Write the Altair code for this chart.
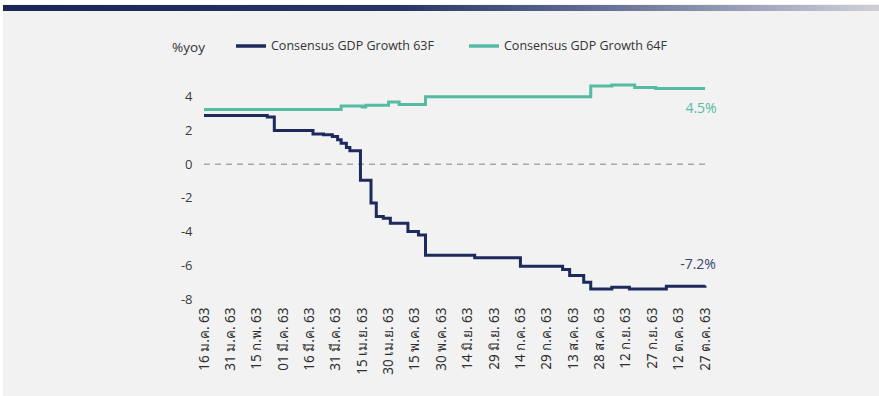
import altair as alt
import pandas as pd

# ---- data ----
navy_name = "Consensus GDP Growth 63F"
teal_name = "Consensus GDP Growth 64F"

navy_dates = ["2020-01-16", "2020-02-21", "2020-02-25", "2020-03-18", "2020-03-24",
              "2020-03-29", "2020-04-01", "2020-04-03", "2020-04-06", "2020-04-08",
              "2020-04-14", "2020-04-20", "2020-04-23", "2020-04-27", "2020-05-01",
              "2020-05-11", "2020-05-17", "2020-05-21", "2020-06-18", "2020-07-14",
              "2020-08-07", "2020-08-11", "2020-08-19", "2020-08-23", "2020-09-04",
              "2020-09-14", "2020-10-05", "2020-10-27"]
navy_vals = [2.9, 2.8, 2.0, 1.8, 1.75,
             1.65, 1.45, 1.25, 1.0, 0.8,
             -0.95, -2.3, -3.1, -3.2, -3.5,
             -4.0, -4.2, -5.4, -5.55, -6.05,
             -6.25, -6.6, -7.0, -7.4, -7.3,
             -7.4, -7.25, -7.2]

teal_dates = ["2020-01-16", "2020-04-03", "2020-04-15", "2020-04-17", "2020-04-30",
              "2020-05-06", "2020-05-21", "2020-08-23", "2020-09-04", "2020-09-17",
              "2020-09-29", "2020-10-27"]
teal_vals = [3.25, 3.45, 3.4, 3.5, 3.7,
             3.55, 4.0, 4.65, 4.7, 4.55,
             4.5, 4.5]

tick_dates = ["2020-01-16", "2020-01-31", "2020-02-15", "2020-03-01", "2020-03-16",
              "2020-03-31", "2020-04-15", "2020-04-30", "2020-05-15", "2020-05-30",
              "2020-06-14", "2020-06-29", "2020-07-14", "2020-07-29", "2020-08-13",
              "2020-08-28", "2020-09-12", "2020-09-27", "2020-10-12", "2020-10-27"]
thai_months = ["ม.ค.", "ก.พ.", "มี.ค.", "เม.ย.", "พ.ค.", "มิ.ย.",
               "ก.ค.", "ส.ค.", "ก.ย.", "ต.ค.", "พ.ย.", "ธ.ค."]
y_ticks = [-8, -6, -4, -2, 0, 2, 4]
end_labels = ["-7.2%", "4.5%"]

NAVY = "#1c2a5c"
TEAL = "#55bca3"
BG = "#f2f2f2"

def ms(d):
    return int(pd.Timestamp(d, tz="UTC").value // 10**6)

df = pd.concat([
    pd.DataFrame({"date": navy_dates, "value": navy_vals, "series": navy_name}),
    pd.DataFrame({"date": teal_dates, "value": teal_vals, "series": teal_name}),
])
last = df.groupby("series").tail(1).copy()
last["label"] = [end_labels[0] if s == navy_name else end_labels[1] for s in last["series"]]

month_arr = "[" + ",".join("'" + m + "'" for m in thai_months) + "]"
label_expr = ("(utcdate(datum.value) < 10 ? '0' : '') + utcdate(datum.value) + ' ' + "
              + month_arr + "[utcmonth(datum.value)] + ' 63'")

x_scale = alt.Scale(type="utc", domain=[ms(tick_dates[0]), ms(tick_dates[-1])])
y_scale = alt.Scale(domain=[-8, 5], nice=False, zero=False)

x_axis = alt.Axis(values=[ms(d) for d in tick_dates], labelExpr=label_expr,
                  labelAngle=270, labelAlign="right", labelBaseline="middle",
                  labelPadding=8, ticks=False, domain=False, grid=False,
                  labelFont="Noto Sans", labelFontSize=13.5, labelColor="#2e2e2e",
                  title=None, labelOverlap=False, labelBound=False, labelFlush=False)
y_axis = alt.Axis(values=y_ticks, labelExpr="'' + datum.value",
                  ticks=False, domain=False, grid=False, labelOverlap=False,
                  labelPadding=12, labelFont="Open Sans", labelFontSize=13,
                  labelColor="#3a3a3a", title="%yoy", titleAngle=0,
                  titleX=-16, titleY=-33, titleAlign="center",
                  titleBaseline="middle", titleFont="Open Sans",
                  titleFontSize=13.5, titleFontWeight="normal", titleColor="#333333")

x_enc = alt.X("date:T", scale=x_scale, axis=x_axis)
y_enc = alt.Y("value:Q", scale=y_scale, axis=y_axis)

color_enc = alt.Color("series:N",
                      scale=alt.Scale(domain=[navy_name, teal_name], range=[NAVY, TEAL]),
                      legend=alt.Legend(title=None, orient="none", legendX=30, legendY=-51,
                                        direction="horizontal", symbolType="stroke",
                                        symbolSize=900, symbolStrokeWidth=3.5,
                                        labelFont="Open Sans", labelFontSize=12.5,
                                        labelColor="#333333", columnPadding=28,
                                        labelOffset=3, labelLimit=0))

lines = alt.Chart(df).mark_line(interpolate="step-after", strokeWidth=3).encode(
    x=x_enc, y=y_enc, color=color_enc)

zero = alt.Chart(pd.DataFrame({"value": [0]})).mark_rule(
    color="#a8a8a8", strokeDash=[6, 5], strokeWidth=1.3).encode(y=y_enc)

labels_top = alt.Chart(last[last["series"] == teal_name]).mark_text(
    font="Open Sans", fontSize=14, dy=21, dx=-4, color=TEAL).encode(
    x=x_enc, y=y_enc, text="label:N")
labels_bot = alt.Chart(last[last["series"] == navy_name]).mark_text(
    font="Open Sans", fontSize=14, dy=-21, dx=-7, color="#3b4572").encode(
    x=x_enc, y=y_enc, text="label:N")

one = pd.DataFrame({"a": [0]})
white_top = alt.Chart(one).mark_rect(color="white").encode(
    x=alt.value(-204), x2=alt.value(675), y=alt.value(-80), y2=alt.value(-76))
white_left = alt.Chart(one).mark_rect(color="white").encode(
    x=alt.value(-204), x2=alt.value(-201), y=alt.value(-80), y2=alt.value(316))
bar = alt.Chart(one).mark_rect(
    color=alt.Gradient(gradient="linear", x1=0, x2=1, y1=0, y2=0,
                       stops=[alt.GradientStop(offset=0, color="#1c2656"),
                              alt.GradientStop(offset=0.45, color="#283564"),
                              alt.GradientStop(offset=0.7, color="#6a7398"),
                              alt.GradientStop(offset=0.88, color="#a7abc0"),
                              alt.GradientStop(offset=1, color="#cfd0d6")])).encode(
    x=alt.value(-201), x2=alt.value(675), y=alt.value(-75), y2=alt.value(-69))

chart = alt.layer(white_top, white_left, bar, zero, lines, labels_top, labels_bot).properties(
    width=501, height=219,
    autosize=alt.AutoSizeParams(type="none"),
    padding={"left": 204, "top": 80, "right": 174, "bottom": 97},
    background=BG,
).configure_view(stroke=None)

chart.save("out.html", embed_options={"renderer": "svg", "actions": False})
